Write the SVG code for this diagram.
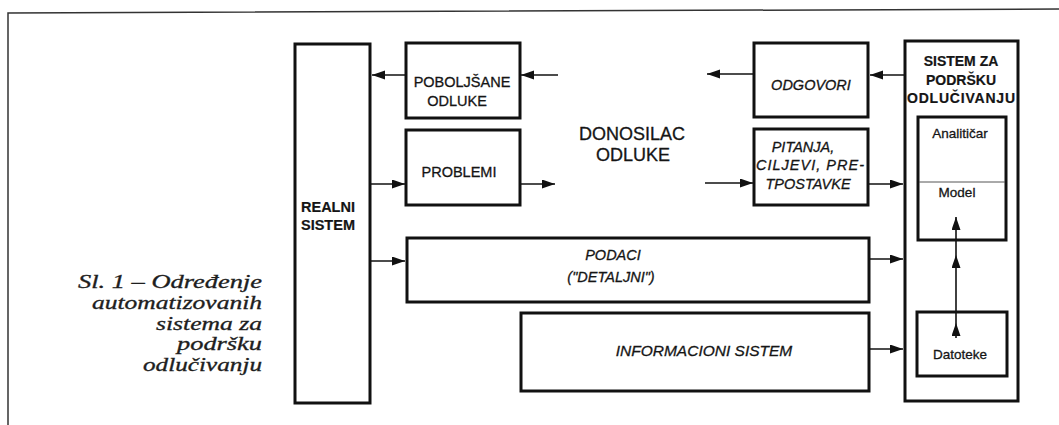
<svg xmlns="http://www.w3.org/2000/svg" width="1059" height="425" viewBox="0 0 1059 425">
<style>
.box{fill:none;stroke:#111;stroke-width:3}
.frame{fill:none;stroke:#333;stroke-width:1.5}
.con{fill:none;stroke:#111;stroke-width:1.6}
.t{font-family:"Liberation Sans",Arial,sans-serif;font-size:14.5px;fill:#151515;stroke:#151515;stroke-width:0.3;text-anchor:middle}
.b{font-weight:bold;stroke-width:0.2}
.i{font-style:italic}
.cap{font-family:"Liberation Serif","Times New Roman",serif;font-style:italic;font-size:18px;fill:#1e1e1e;stroke:#1e1e1e;stroke-width:0.3;text-anchor:end}
</style>
<defs>
<marker id="ah" markerUnits="userSpaceOnUse" markerWidth="14" markerHeight="10" refX="13" refY="4.5" orient="auto">
<path d="M0,0 L13,4.5 L0,9 z" fill="#111"/>
</marker>
</defs>
<rect width="1059" height="425" fill="#fff"/>
<g id="frame">
<path class="frame" d="M8,425 L8,13 L1059,9"/>
</g>
<g id="caption">
<text class="cap" x="262" y="288" textLength="184" lengthAdjust="spacingAndGlyphs">Sl. 1 – Određenje</text>
<text class="cap" x="262" y="309" textLength="170" lengthAdjust="spacingAndGlyphs">automatizovanih</text>
<text class="cap" x="262" y="330" textLength="106" lengthAdjust="spacingAndGlyphs">sistema za</text>
<text class="cap" x="262" y="350" textLength="85" lengthAdjust="spacingAndGlyphs">podršku</text>
<text class="cap" x="262" y="371" textLength="119" lengthAdjust="spacingAndGlyphs">odlučivanju</text>
</g>
<g id="connectors">
<line class="con" x1="406" y1="75" x2="372" y2="75" marker-end="url(#ah)"/>
<line class="con" x1="558" y1="75" x2="521" y2="75" marker-end="url(#ah)"/>
<line class="con" x1="371" y1="184" x2="405" y2="184" marker-end="url(#ah)"/>
<line class="con" x1="521" y1="184" x2="555" y2="184" marker-end="url(#ah)"/>
<line class="con" x1="754" y1="74" x2="707" y2="74" marker-end="url(#ah)"/>
<line class="con" x1="705" y1="183" x2="753" y2="183" marker-end="url(#ah)"/>
<line class="con" x1="904" y1="75" x2="870" y2="75" marker-end="url(#ah)"/>
<line class="con" x1="869" y1="184" x2="903" y2="184" marker-end="url(#ah)"/>
<line class="con" x1="371" y1="261" x2="405" y2="261" marker-end="url(#ah)"/>
<line class="con" x1="870" y1="259" x2="903" y2="259" marker-end="url(#ah)"/>
<line class="con" x1="870" y1="349" x2="903" y2="349" marker-end="url(#ah)"/>
<polyline class="con" points="956,338 956,323 956,255 956,217" marker-mid="url(#ah)" marker-end="url(#ah)"/>
</g>
<g id="realni">
<rect class="box" x="295" y="44" width="75" height="359"/>
<text class="t b" x="301" y="212" style="text-anchor:start">REALNI</text>
<text class="t b" x="301" y="230" style="text-anchor:start">SISTEM</text>
</g>
<g id="poboljsane">
<rect class="box" x="406" y="43" width="114" height="75"/>
<text class="t" x="462" y="87">POBOLJŠANE</text>
<text class="t" x="457" y="106">ODLUKE</text>
</g>
<g id="problemi">
<rect class="box" x="406" y="130" width="114" height="75"/>
<text class="t" x="459" y="177">PROBLEMI</text>
</g>
<g id="donosilac">
<text class="t" x="632" y="140" style="font-size:18px">DONOSILAC</text>
<text class="t" x="633" y="161" style="font-size:18px">ODLUKE</text>
</g>
<g id="odgovori">
<rect class="box" x="754" y="43" width="114" height="74"/>
<text class="t i" x="811" y="90">ODGOVORI</text>
</g>
<g id="pitanja">
<rect class="box" x="754" y="129" width="114" height="76"/>
<text class="t i" x="803" y="152">PITANJA,</text>
<text class="t i" x="810" y="170" textLength="108">CILJEVI, PRE-</text>
<text class="t i" x="808" y="189">TPOSTAVKE</text>
</g>
<g id="podaci">
<rect class="box" x="407" y="238" width="462" height="64"/>
<text class="t i" x="613" y="260">PODACI</text>
<text class="t i" x="611" y="282">("DETALJNI")</text>
</g>
<g id="informacioni">
<rect class="box" x="521" y="313" width="348" height="78"/>
<text class="t i" x="704" y="356" style="font-size:15.5px">INFORMACIONI SISTEM</text>
</g>
<g id="sistem">
<rect class="box" x="905" y="41" width="113" height="360"/>
<text class="t b" x="961" y="66" style="font-size:14px">SISTEM ZA</text>
<text class="t b" x="961" y="85" style="font-size:14px">PODRŠKU</text>
<text class="t b" x="961" y="103" style="font-size:14px" textLength="108">ODLUČIVANJU</text>
</g>
<g id="analiticar-model">
<rect class="box" x="918" y="117" width="88" height="123"/>
<line x1="919" y1="182" x2="1005" y2="182" stroke="#555" stroke-width="1"/>
<text class="t" x="960" y="138" style="font-size:13.5px">Analitičar</text>
<text class="t" x="957" y="197" style="font-size:13.5px">Model</text>
</g>
<g id="datoteke">
<rect class="box" x="917" y="312" width="90" height="64"/>
<text class="t" x="960" y="359" style="font-size:13.5px">Datoteke</text>
</g>
</svg>
